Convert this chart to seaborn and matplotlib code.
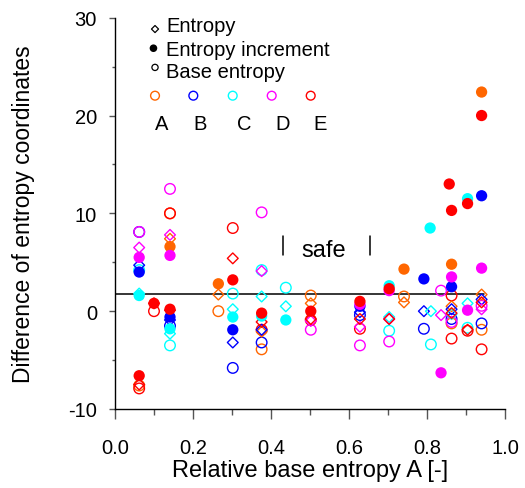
import numpy as np
import pandas as pd
import matplotlib
matplotlib.use("Agg")
import matplotlib.pyplot as plt
import seaborn as sns

# ---------------- data ----------------
groups = ["A", "B", "C", "D", "E"]
group_colors = ["#FF6600", "#0000FF", "#00FFFF", "#FF00FF", "#FF0000"]
kinds = ["Entropy", "Entropy increment", "Base entropy"]

# A (orange)
a_ent_x = [0.141, 0.265, 0.376, 0.502, 0.741, 0.863, 0.94]
a_ent_y = [7.4, 1.7, -2.1, 0.8, 0.9, 0.5, 1.7]
a_inc_x = [0.141, 0.265, 0.741, 0.863, 0.94]
a_inc_y = [6.6, 2.8, 4.3, 4.8, 22.4]
a_base_x = [0.062, 0.141, 0.265, 0.376, 0.502, 0.741, 0.863, 0.94]
a_base_y = [-7.6, 10.0, 0.0, -3.9, 1.6, 1.5, -1.25, -1.9]

# B (blue)
b_ent_x = [0.062, 0.141, 0.302, 0.376, 0.628, 0.792, 0.863, 0.94]
b_ent_y = [4.7, -0.9, -3.2, -1.9, -0.1, 0.0, 0.2, 1.2]
b_inc_x = [0.062, 0.141, 0.302, 0.628, 0.792, 0.863, 0.94]
b_inc_y = [4.0, -0.6, -1.9, 0.5, 3.3, 2.5, 11.8]
b_base_x = [0.062, 0.141, 0.302, 0.376, 0.628, 0.792, 0.863, 0.94]
b_base_y = [8.1, -1.5, -5.8, -3.2, -0.4, -1.8, -0.8, -1.25]

# C (cyan)
c_ent_x = [0.062, 0.141, 0.302, 0.376, 0.438, 0.703, 0.81, 0.863, 0.904]
c_ent_y = [1.8, -2.3, 0.2, 1.5, 0.5, -0.6, 0.0, -0.3, 0.8]
c_inc_x = [0.062, 0.141, 0.302, 0.376, 0.438, 0.703, 0.808, 0.904]
c_inc_y = [1.6, -1.8, -0.6, -0.5, -0.9, 2.6, 8.5, 11.5]
c_base_x = [0.062, 0.141, 0.302, 0.376, 0.438, 0.703, 0.81, 0.904]
c_base_y = [4.2, -3.5, 1.8, 4.2, 2.4, -2.0, -3.4, -1.7]

# D (magenta)
d_ent_x = [0.062, 0.141, 0.376, 0.502, 0.628, 0.703, 0.836, 0.94]
d_ent_y = [6.5, 7.8, 4.1, -1.0, -1.6, -0.8, -0.4, 0.2]
d_inc_x = [0.062, 0.141, 0.628, 0.703, 0.836, 0.863, 0.904, 0.94]
d_inc_y = [5.5, 5.7, 0.7, 2.1, -6.3, 3.5, 0.1, 4.4]
d_base_x = [0.062, 0.141, 0.376, 0.502, 0.628, 0.703, 0.836, 0.863, 0.94]
d_base_y = [8.1, 12.5, 10.1, -1.9, -3.5, -3.1, 2.1, -1.1, 0.55]

# E (red)
e_ent_x = [0.062, 0.10, 0.141, 0.302, 0.376, 0.502, 0.628, 0.703, 0.863, 0.904, 0.94]
e_ent_y = [-7.5, 0.8, 0.1, 5.4, -1.1, -0.8, -0.8, -0.8, -0.2, -1.9, 0.9]
e_inc_x = [0.062, 0.10, 0.141, 0.302, 0.376, 0.502, 0.628, 0.703, 0.857, 0.863, 0.904, 0.94]
e_inc_y = [-6.6, 0.8, 0.2, 3.2, -0.2, 0.0, 1.0, 2.3, 13.0, 10.3, 11.0, 20.0]
e_base_x = [0.062, 0.10, 0.141, 0.302, 0.376, 0.502, 0.628, 0.863, 0.863, 0.904, 0.94]
e_base_y = [-7.9, 0.0, 10.0, 8.5, -1.9, -0.9, -1.8, 1.6, -2.8, -2.0, -3.9]

# reference line and "safe" region markers
ref_level = 1.73
ref_x_range = [0.0, 0.945]
safe_bounds = [0.43, 0.655]
safe_bar_y = [5.7, 7.7]
safe_label_pos = (0.535, 6.3)

x_ticks = [0.0, 0.2, 0.4, 0.6, 0.8, 1.0]
y_ticks = [-10, 0, 10, 20, 30]

# ---------------- build long table ----------------
series = {
    ("A", "Entropy"): (a_ent_x, a_ent_y), ("A", "Entropy increment"): (a_inc_x, a_inc_y), ("A", "Base entropy"): (a_base_x, a_base_y),
    ("B", "Entropy"): (b_ent_x, b_ent_y), ("B", "Entropy increment"): (b_inc_x, b_inc_y), ("B", "Base entropy"): (b_base_x, b_base_y),
    ("C", "Entropy"): (c_ent_x, c_ent_y), ("C", "Entropy increment"): (c_inc_x, c_inc_y), ("C", "Base entropy"): (c_base_x, c_base_y),
    ("D", "Entropy"): (d_ent_x, d_ent_y), ("D", "Entropy increment"): (d_inc_x, d_inc_y), ("D", "Base entropy"): (d_base_x, d_base_y),
    ("E", "Entropy"): (e_ent_x, e_ent_y), ("E", "Entropy increment"): (e_inc_x, e_inc_y), ("E", "Base entropy"): (e_base_x, e_base_y),
}
rows = []
for (g, k), (xs, ys) in series.items():
    for xv, yv in zip(xs, ys):
        rows.append({"group": g, "kind": k, "x": xv, "y": yv})
df = pd.DataFrame(rows)

# ---------------- style ----------------
sns.set_style("ticks")
plt.rcParams["font.family"] = ["Liberation Sans", "DejaVu Sans"]
plt.rcParams["text.color"] = "black"
plt.rcParams["axes.labelcolor"] = "black"
plt.rcParams["xtick.labelcolor"] = "black"
plt.rcParams["ytick.labelcolor"] = "black"

fig = plt.figure(figsize=(5.25, 4.89), dpi=100)
ax = fig.add_axes([115 / 525, 79 / 489, 390 / 525, 391.3 / 489])

color_of = dict(zip(groups, group_colors))
style = {
    "Base entropy": dict(marker="o", s=58, lw=1.0, filled=False),
    "Entropy": dict(marker="D", s=30, lw=1.0, filled=False),
    "Entropy increment": dict(marker="o", s=66, lw=0, filled=True),
}

ax.plot(ref_x_range, [ref_level, ref_level], color="black", lw=1.1, zorder=1)

for kind in ["Base entropy", "Entropy", "Entropy increment"]:
    st = style[kind]
    for g in groups:
        sub = df[(df.kind == kind) & (df.group == g)]
        col = color_of[g]
        if st["filled"]:
            sns.scatterplot(data=sub, x="x", y="y", ax=ax, marker=st["marker"], s=st["s"],
                            facecolor=col, edgecolor="none", linewidth=0, zorder=3)
        else:
            sns.scatterplot(data=sub, x="x", y="y", ax=ax, marker=st["marker"], s=st["s"],
                            facecolor="none", edgecolor=col, linewidth=st["lw"], zorder=2)

# safe region
for xb in safe_bounds:
    ax.plot([xb, xb], safe_bar_y, color="black", lw=1.1)
ax.text(safe_label_pos[0], safe_label_pos[1], "safe", fontsize=17, ha="center", va="center", color="black")

# axes
ax.set_xlim(0, 1.0)
ax.set_ylim(-10, 30)
ax.set_xticks(x_ticks)
ax.set_xticklabels([f"{v:.1f}" for v in x_ticks])
ax.set_yticks(y_ticks)
ax.set_yticklabels([f"{v}" for v in y_ticks])
ax.set_xticks(np.arange(0.1, 1.0, 0.2), minor=True)
ax.set_yticks([-5, 5, 15, 25], minor=True)
ax.tick_params(axis="x", which="major", length=7, width=1, direction="out", pad=14, labelsize=14.5, color="#555555", labelcolor="black")
ax.tick_params(axis="x", which="minor", length=4, width=1, direction="out", color="#555555")
ax.tick_params(axis="y", which="major", length=4, width=1, direction="out", pad=9, labelsize=14.5, color="#555555", labelcolor="black")
ax.tick_params(axis="y", which="minor", length=2, width=1, direction="out", color="#555555")
sns.despine(ax=ax)
for sp in ["left", "bottom"]:
    ax.spines[sp].set_color("black")
    ax.spines[sp].set_linewidth(1.0)
ax.set_xlabel("Relative base entropy A [-]", fontsize=17, labelpad=1, color="black")
ax.set_ylabel("Difference of entropy coordinates", fontsize=16.5, labelpad=24, color="black")

# legend (drawn manually inside the axes)
tr = ax.transAxes
leg_marker_x = 0.1026
leg_text_x = 0.131
ax.scatter([leg_marker_x], [0.971], transform=tr, marker="D", s=13, facecolor="none", edgecolor="black", linewidth=0.9, clip_on=False)
ax.scatter([leg_marker_x - 0.004], [0.922], transform=tr, marker="o", s=30, facecolor="black", edgecolor="none", clip_on=False)
ax.scatter([leg_marker_x], [0.873], transform=tr, marker="o", s=20, facecolor="none", edgecolor="black", linewidth=0.9, clip_on=False)
for ty, lab in zip([0.9653, 0.9055, 0.8477], kinds):
    ax.text(leg_text_x, ty, lab, transform=tr, fontsize=14.5, ha="left", va="baseline", color="black")

key_x = [0.1026, 0.2008, 0.3018, 0.4018, 0.5018]
lab_x = [0.1197, 0.218, 0.3308, 0.43, 0.5256]
for kx, lx, g, col in zip(key_x, lab_x, groups, group_colors):
    ax.scatter([kx], [0.8007], transform=tr, marker="o", s=40, facecolor="none", edgecolor=col, linewidth=1.0, clip_on=False)
    ax.text(lx, 0.7156, g, transform=tr, fontsize=14.5, ha="center", va="baseline", color="black")

fig.savefig("out.png", dpi=100)
